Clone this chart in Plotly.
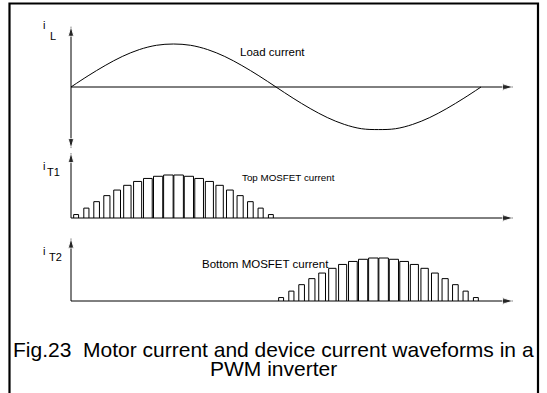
import plotly.graph_objects as go

W, H = 547, 393

# ---------------- data ----------------
# load current, normalised, sampled every 15 electrical degrees
load_deg = [0, 15, 30, 45, 60, 75, 90, 105, 120, 135, 150, 165, 180,
            195, 210, 225, 240, 255, 270, 285, 300, 315, 330, 345, 360]
load_cur = [0.0, 0.26, 0.50, 0.71, 0.87, 0.97, 1.0, 0.97, 0.87, 0.71, 0.50, 0.26, 0.0,
            -0.26, -0.50, -0.71, -0.87, -0.97, -0.99, -0.97, -0.87, -0.71, -0.50, -0.26, 0.0]

# PWM pulses of the top MOSFET (one per carrier period of 9 degrees)
carrier_period = 9.0
top_centers = [4.5, 13.5, 22.5, 31.5, 40.5, 49.5, 58.5, 67.5, 76.5, 85.5,
               94.5, 103.5, 112.5, 121.5, 130.5, 139.5, 148.5, 157.5, 166.5, 175.5]
pulse_height = [0.08, 0.23, 0.38, 0.52, 0.65, 0.76, 0.85, 0.92, 0.97, 1.0,
                1.0, 0.97, 0.92, 0.85, 0.76, 0.65, 0.52, 0.38, 0.23, 0.08]
pulse_duty = [0.48, 0.50, 0.55, 0.60, 0.66, 0.72, 0.79, 0.85, 0.90, 0.93,
              0.93, 0.90, 0.85, 0.79, 0.72, 0.66, 0.60, 0.55, 0.50, 0.48]
# bottom MOSFET conducts in the negative half cycle
bottom_centers = [184.5, 193.5, 202.5, 211.5, 220.5, 229.5, 238.5, 247.5, 256.5, 265.5,
                  274.5, 283.5, 292.5, 301.5, 310.5, 319.5, 328.5, 337.5, 346.5, 355.5]

axis_end_deg = 388
panel_labels = ["L", "T1", "T2"]
panel_texts = ["Load current", "Top MOSFET current", "Bottom MOSFET current"]
caption_1 = "Fig.23  Motor current and device current waveforms in a"
caption_2 = "PWM inverter"

# ---------------- layout helpers ----------------
X0_PX = 71.0
DEG_PX = 410.0 / 360.0
x_range = [-X0_PX / DEG_PX, (W - X0_PX) / DEG_PX]
UNIT_PX = 43.0


def band(zero_px, top_px, bot_px):
    domain = [1 - bot_px / H, 1 - top_px / H]
    rng = [(zero_px - bot_px) / UNIT_PX, (zero_px - top_px) / UNIT_PX]
    return domain, rng


def pulse_path(centers, heights, duties):
    xs, ys = [], []
    for c, h, d in zip(centers, heights, duties):
        w = d * carrier_period
        l, r = c - w / 2, c + w / 2
        xs += [l, l, r, r, None]
        ys += [0, h, h, 0, None]
    return xs, ys


LINE = dict(color="black", width=1)
FONT = dict(family="Arial, Liberation Sans, sans-serif", color="black")

fig = go.Figure()

panels = [  # (yaxis id, zero px, band top, band bottom)
    ("y", 87, 0, 160),
    ("y2", 218, 135, 235),
    ("y3", 301, 225, 320),
]

# axes arrows
fig.add_trace(go.Scatter(x=[0, 0, 0], y=[-1.42, 0, 1.40], yaxis="y", mode="lines+markers",
                         line=LINE, marker=dict(symbol="arrow", size=[10, 0, 10],
                                                angle=[180, 0, 0], color="black"),
                         hoverinfo="skip"))
fig.add_trace(go.Scatter(x=[0, 0], y=[0, 1.51], yaxis="y2", mode="lines+markers",
                         line=LINE, marker=dict(symbol="arrow", size=[0, 10],
                                                angle=[0, 0], color="black"),
                         hoverinfo="skip"))
fig.add_trace(go.Scatter(x=[0, 0], y=[0, 1.45], yaxis="y3", mode="lines+markers",
                         line=LINE, marker=dict(symbol="arrow", size=[0, 10],
                                                angle=[0, 0], color="black"),
                         hoverinfo="skip"))
for ya in ("y", "y2", "y3"):
    fig.add_trace(go.Scatter(x=[0, axis_end_deg], y=[0, 0], yaxis=ya, mode="lines+markers",
                             line=LINE, marker=dict(symbol="arrow", size=[0, 11],
                                                    angle=[90, 90], color="black"),
                             hoverinfo="skip"))

# load current
fig.add_trace(go.Scatter(x=load_deg, y=load_cur, yaxis="y", mode="lines",
                         line=dict(color="black", width=1, shape="spline"), hoverinfo="skip"))

# device currents
tx, ty = pulse_path(top_centers, pulse_height, pulse_duty)
fig.add_trace(go.Scatter(x=tx, y=ty, yaxis="y2", mode="lines", line=LINE, hoverinfo="skip"))
bx, by = pulse_path(bottom_centers, pulse_height, pulse_duty)
fig.add_trace(go.Scatter(x=bx, y=by, yaxis="y3", mode="lines", line=LINE, hoverinfo="skip"))

# labels
annotations = []
label_pos = [  # (yref, i_y, sub_y, sub_x_deg, text_x_deg, text_y, text size)
    ("y", 1.44, 1.18, -15.5, 147, 0.82, 11.5),
    ("y2", 1.21, 1.06, -15.0, 148, 0.94, 9.8),
    ("y3", 1.17, 1.02, -13.5, 113, 0.87, 11.5),
]
for (yref, iy, sy, sx, txd, tyv, fs), sub, txt in zip(label_pos, panel_labels, panel_texts):
    annotations.append(dict(x=-24, y=iy, xref="x", yref=yref, text="i", showarrow=False,
                            font=dict(size=11, **FONT), xanchor="center", yanchor="middle"))
    annotations.append(dict(x=sx, y=sy, xref="x", yref=yref, text=sub, showarrow=False,
                            font=dict(size=11, **FONT), xanchor="center", yanchor="middle"))
    annotations.append(dict(x=txd, y=tyv, xref="x", yref=yref, text=txt, showarrow=False,
                            font=dict(size=fs, **FONT), xanchor="left", yanchor="middle"))

annotations.append(dict(x=273.5 / W, y=1 - 349 / H, xref="paper", yref="paper", text=caption_1,
                        showarrow=False, font=dict(size=21, **FONT),
                        xanchor="center", yanchor="middle"))
annotations.append(dict(x=273.5 / W, y=1 - 368.5 / H, xref="paper", yref="paper", text=caption_2,
                        showarrow=False, font=dict(size=21, **FONT),
                        xanchor="center", yanchor="middle"))

layout_axes = {}
for ya, zero, top, bot in panels:
    dom, rng = band(zero, top, bot)
    key = "yaxis" if ya == "y" else "yaxis" + ya[1:]
    layout_axes[key] = dict(domain=dom, range=rng, visible=False, anchor="x", fixedrange=True)

# frame (open at the bottom)
frame = dict(type="path", xref="paper", yref="paper",
             path=f"M {9.5 / W},0 L {9.5 / W},{1 - 3.5 / H} L {538 / W},{1 - 3.5 / H} L {538 / W},0",
             line=dict(color="black", width=2.2))

fig.update_layout(
    width=W, height=H,
    margin=dict(l=0, r=0, t=0, b=0),
    paper_bgcolor="white", plot_bgcolor="rgba(0,0,0,0)",
    showlegend=False,
    xaxis=dict(domain=[0, 1], range=x_range, visible=False, anchor="y", fixedrange=True),
    annotations=annotations,
    shapes=[frame],
    **layout_axes,
)

fig.write_html("out.html", config={"displayModeBar": False},
               post_script="document.body.style.margin='0';")
